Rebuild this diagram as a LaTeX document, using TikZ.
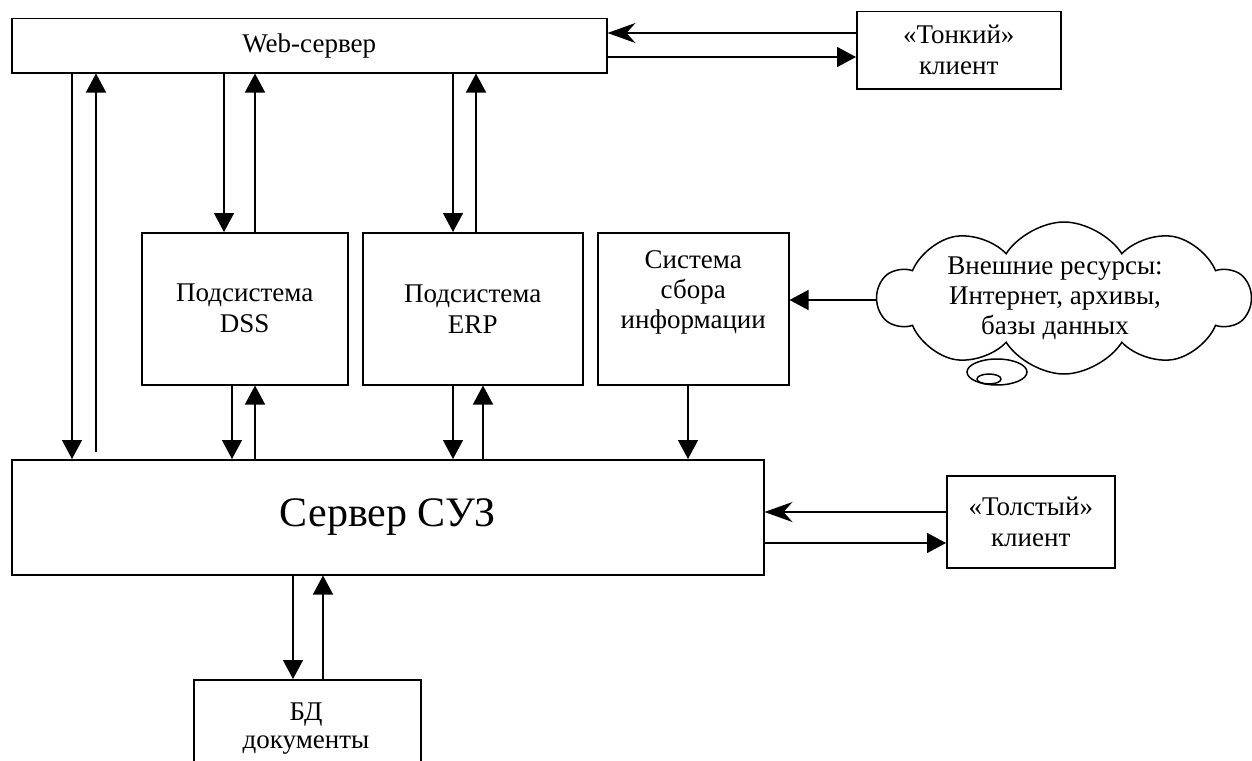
\documentclass[tikz,border=0pt]{standalone}
\usepackage{fontspec}
\setmainfont{Liberation Serif}
\usetikzlibrary{arrows.meta,shapes.symbols}
\tikzset{
  box/.style={draw,line width=1.5pt,rectangle,anchor=north west,inner sep=0pt,align=center,
    font=\fontsize{27}{31}\selectfont},
  tri/.style={line width=1.5pt,-{Triangle[length=19pt,width=20pt]}},
  barb/.style={line width=1.5pt,-{Stealth[length=28pt,width=20pt,inset=9pt]}},
  lbl/.style={align=center,font=\fontsize{27}{30}\selectfont},
}
\begin{document}
\begin{tikzpicture}[x=1pt,y=-1pt]
\useasboundingbox (0,0) rectangle (1252,760);
% boxes
\node[box,minimum width=595pt,minimum height=54pt] (web) at (11,18) {Web-сервер};
\node[box,minimum width=204pt,minimum height=77pt] (thin) at (856,11) {«Тонкий»\\клиент};
\node[box,minimum width=206pt,minimum height=152pt] (dss) at (141,232) {Подсистема\\DSS};
\node[box,minimum width=220pt,minimum height=152pt] (erp) at (362,232) {Подсистема\\ERP};
\node[box,minimum width=191pt,minimum height=152pt,
  label={[lbl,yshift=16pt]center:Система\\сбора\\информации}] (coll) at (597,232) {};
\node[box,minimum width=752pt,minimum height=115pt,font=\fontsize{42}{48}\selectfont] (srv) at (11,459) {Сервер СУЗ};
\node[box,minimum width=168pt,minimum height=92pt] (thick) at (946,475) {«Толстый»\\клиент};
\node[box,minimum width=227pt,minimum height=86pt,anchor=north west] (db) at (193,679) {};
\node[lbl,font=\fontsize{27}{28}\selectfont] (dbt) at (306,729) {БД\\документы};
% cloud
\draw[line width=1.5pt] (997,372) ellipse [x radius=30pt,y radius=13pt];
\draw[line width=1.5pt] (989,379) ellipse [x radius=12pt,y radius=5pt];
\node[cloud,draw,line width=1.5pt,fill=white,cloud puffs=10,cloud puff arc=115,
  cloud ignores aspect,minimum width=372pt,minimum height=152pt,inner sep=0pt,
  label={[lbl,xshift=-9pt]center:Внешние ресурсы:\\Интернет, архивы,\\базы данных}] (cloud) at (1064,298) {};
% x positions
\coordinate (xa) at (72,0);
\coordinate (xb) at (96,0);
\coordinate (xc) at (224,0);
\coordinate (xd) at (255,0);
\coordinate (xe) at (453,0);
\coordinate (xf) at (476,0);
\coordinate (xg) at (232,0);
\coordinate (xh) at (483,0);
\coordinate (xi) at (688,0);
\coordinate (xj) at (293,0);
\coordinate (xk) at (323,0);
\coordinate (ya) at (0,33);
\coordinate (yb) at (0,57);
\coordinate (yc) at (0,512);
\coordinate (yd) at (0,543);
\coordinate (ye) at (0,300);
\coordinate (srvgap) at (96,452);
% connectors
\draw[tri] (web.south -| xa) -- (srv.north -| xa);
\draw[tri] (srvgap) -- (web.south -| xb);
\draw[tri] (web.south -| xc) -- (dss.north -| xc);
\draw[tri] (dss.north -| xd) -- (web.south -| xd);
\draw[tri] (web.south -| xe) -- (erp.north -| xe);
\draw[tri] (erp.north -| xf) -- (web.south -| xf);
\draw[tri] (dss.south -| xg) -- (srv.north -| xg);
\draw[tri] (srv.north -| xd) -- (dss.south -| xd);
\draw[tri] (erp.south -| xe) -- (srv.north -| xe);
\draw[tri] (srv.north -| xh) -- (erp.south -| xh);
\draw[tri] (coll.south -| xi) -- (srv.north -| xi);
\draw[tri] (cloud.west |- ye) -- (coll.east |- ye);
\draw[barb] (thin.west |- ya) -- (web.east |- ya);
\draw[tri] (web.east |- yb) -- (thin.west |- yb);
\draw[barb] (thick.west |- yc) -- (srv.east |- yc);
\draw[tri] (srv.east |- yd) -- (thick.west |- yd);
\draw[tri] (srv.south -| xj) -- (db.north -| xj);
\draw[tri] (db.north -| xk) -- (srv.south -| xk);
\end{tikzpicture}
\end{document}
